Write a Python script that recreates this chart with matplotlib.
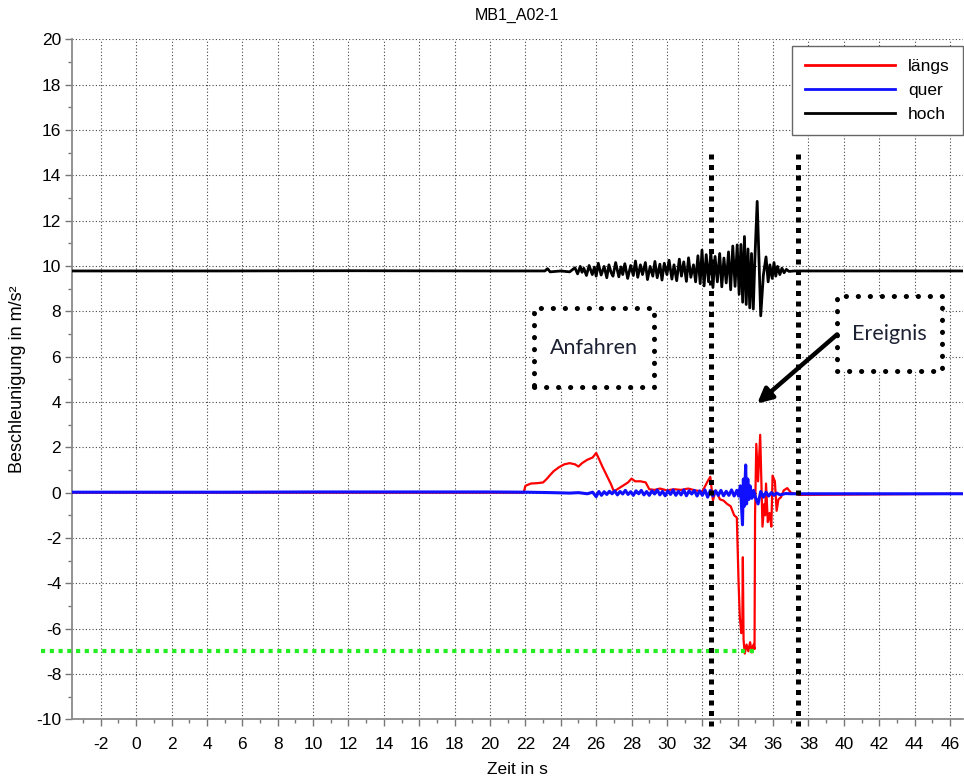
import matplotlib
matplotlib.use("Agg")
import matplotlib.pyplot as plt
from matplotlib.patches import Rectangle
from matplotlib.ticker import MultipleLocator

plt.rcParams['font.family'] = ['Liberation Sans', 'DejaVu Sans']
plt.rcParams['axes.unicode_minus'] = False

# --- measured signals -------------------------------------------------------
# vertical acceleration (hoch)
hoch_t = [-3.6, 5.0, 12.0, 20.0, 23.1, 23.25, 23.4, 24.0, 24.5,
          24.8, 24.95, 25.1, 25.2, 25.3, 25.45, 25.6, 25.78, 25.9, 26.0,
          26.12, 26.28, 26.45, 26.6, 26.72, 26.85, 26.95, 27.1, 27.28, 27.4,
          27.5, 27.62, 27.78, 27.95, 28.1, 28.22, 28.35, 28.5, 28.62, 28.78,
          28.9, 29.05, 29.2, 29.32, 29.45, 29.6, 29.72, 29.85, 30.0, 30.12,
          30.28, 30.4, 30.55, 30.7, 30.82, 30.95, 31.1, 31.22, 31.35, 31.5,
          31.62, 31.75, 31.88, 31.98, 32.1, 32.22, 32.35, 32.48, 32.6, 32.72,
          32.85, 32.98, 33.1, 33.22, 33.35, 33.48, 33.6, 33.72, 33.85, 33.97,
          34.08, 34.18, 34.28, 34.38, 34.48, 34.58, 34.68, 34.78, 34.88, 34.97,
          35.1, 35.3, 35.45, 35.6, 35.72, 35.82, 35.95, 36.05, 36.15, 36.25,
          36.38, 36.5, 36.62, 36.75, 36.9, 37.2, 46.8]
hoch_v = [9.78, 9.78, 9.79, 9.78, 9.78, 9.88, 9.74, 9.78, 9.74,
          9.92, 9.65, 9.98, 9.72, 9.90, 9.58, 10.02, 9.62, 9.95, 9.55,
          10.12, 9.60, 9.98, 9.48, 10.05, 9.70, 9.55, 10.15, 9.52, 9.96,
          9.62, 10.10, 9.45, 10.02, 9.58, 10.22, 9.50, 10.05, 9.62, 10.15,
          9.40, 9.98, 9.55, 10.20, 9.48, 10.08, 9.38, 10.12, 9.62, 10.25,
          9.42, 10.05, 9.35, 10.30, 9.55, 10.18, 9.32, 10.36, 9.50, 10.05,
          9.30, 10.45, 9.22, 10.70, 9.12, 10.50, 9.30, 10.62, 9.05, 10.42,
          9.30, 10.55, 9.08, 10.35, 9.25, 10.62, 8.95, 10.88, 9.10, 10.93,
          8.75, 10.95, 8.40, 11.30, 8.30, 10.75, 8.15, 10.55, 8.10, 10.30,
          12.85, 7.80, 9.60, 10.40, 9.30, 10.05, 9.45, 10.15, 9.55, 9.98,
          9.62, 9.90, 9.70, 9.85, 9.76, 9.78, 9.78]

# longitudinal acceleration (längs)
laengs_t = [-3.6, 21.9, 22.0, 22.3, 22.7, 23.0, 23.2, 23.4, 23.6, 23.9, 24.2,
            24.5, 24.8, 25.0, 25.2, 25.5, 25.8, 26.0, 26.15, 26.35, 26.6,
            26.85, 27.0, 27.2, 27.5, 27.8, 28.0, 28.2, 28.5, 28.8, 29.0,
            29.3, 29.6, 30.0, 30.4, 30.8, 31.2, 31.6, 32.0, 32.3, 32.45,
            32.6, 32.75, 33.0, 33.2, 33.4, 33.6, 33.8, 33.95, 33.98, 34.05,
            34.12, 34.2, 34.26, 34.29, 34.33, 34.4, 34.5, 34.6, 34.7, 34.8,
            34.9, 34.95, 34.98, 35.05, 35.15, 35.27, 35.32, 35.4, 35.5, 35.55,
            35.6, 35.7, 35.8, 35.9, 35.97, 36.1, 36.2, 36.3, 36.45, 36.6,
            36.8, 37.0, 37.5, 46.8]
laengs_v = [0.0, 0.0, 0.30, 0.40, 0.42, 0.45, 0.60, 0.78, 0.95, 1.12, 1.25,
            1.30, 1.25, 1.15, 1.30, 1.45, 1.55, 1.75, 1.50, 1.15, 0.75,
            0.35, 0.05, 0.15, 0.30, 0.45, 0.62, 0.50, 0.50, 0.45, 0.15,
            0.12, 0.18, 0.10, 0.15, 0.12, 0.18, 0.10, 0.05, 0.50, 0.70,
            -0.35, 0.10, -0.30, -0.35, -0.50, -0.60, -1.00, -1.10, -2.00, -4.00,
            -5.50, -6.20, -5.80, -2.85, -6.50, -7.10, -6.70, -7.00, -6.60, -7.05,
            -6.70, -6.90, -1.00, 2.15, 0.50, 2.55, 1.00, -1.50, -0.50, -1.00,
            0.40, -1.30, -0.90, -1.50, 0.75, 0.50, -0.80, -0.30, -0.20, 0.10,
            0.20, 0.00, -0.10, -0.05]

# lateral acceleration (quer)
quer_t = [-3.6, 5.0, 10.0, 20.0, 22.0, 23.5, 24.5, 25.0, 25.5, 25.8,
          26.0, 26.15, 26.3, 26.45, 26.6, 26.75, 26.9, 27.05, 27.2, 27.35,
          27.5, 27.65, 27.8, 27.95, 28.1, 28.25, 28.4, 28.55, 28.7, 28.85,
          29.0, 29.15, 29.3, 29.45, 29.6, 29.75, 29.9, 30.05, 30.2, 30.35,
          30.5, 30.65, 30.8, 30.95, 31.1, 31.25, 31.4, 31.55, 31.7, 31.85,
          32.0, 32.15, 32.3, 32.45, 32.6, 32.75, 32.9, 33.05, 33.2, 33.35,
          33.5, 33.65, 33.8, 33.95, 34.05, 34.15, 34.2, 34.27, 34.32, 34.37,
          34.45, 34.5, 34.57, 34.63, 34.7, 34.8, 34.9, 35.0, 35.15, 35.3,
          35.45, 35.6, 35.75, 35.9, 36.05, 36.2, 36.4, 36.7, 37.0, 46.8]
quer_v = [0.02, 0.02, 0.03, 0.03, 0.02, 0.00, -0.02, 0.00, -0.05, 0.02,
          -0.18, 0.05, -0.12, 0.04, -0.08, 0.06, -0.05, 0.08, -0.10, 0.05,
          -0.06, 0.10, -0.08, 0.04, -0.12, 0.08, -0.05, 0.10, -0.10, 0.05,
          -0.12, 0.08, -0.06, 0.12, -0.10, 0.06, -0.14, 0.08, -0.08, 0.12,
          -0.12, 0.06, -0.10, 0.12, -0.14, 0.08, -0.06, 0.10, -0.15, 0.08,
          -0.12, 0.12, -0.20, 0.10, -0.15, 0.08, -0.12, 0.10, -0.14, 0.06,
          -0.12, 0.12, -0.15, 0.10, -0.15, 0.30, -0.40, -1.42, 0.60, -0.60,
          1.22, -0.50, 0.60, -0.30, 0.30, -0.25, 0.10, -0.20, -0.50, 0.05,
          -0.20, 0.02, -0.15, 0.00, -0.12, -0.02, -0.10, -0.04, -0.05, -0.05]

# phase boundaries and limit level
phase_bounds = [32.5, 37.4]
limit_level = -7.0
limit_end = 35.15

x_major = 2
y_major = 2

# --- figure -----------------------------------------------------------------
fig = plt.figure(figsize=(9.64, 7.80), dpi=100)
ax = fig.add_axes([72.3 / 964, 60.7 / 780, 891 / 964, 680 / 780])

ax.set_xlim(-3.61, 46.75)
ax.set_ylim(-10, 20)

ax.xaxis.set_major_locator(MultipleLocator(x_major))
ax.xaxis.set_minor_locator(MultipleLocator(1))
ax.yaxis.set_major_locator(MultipleLocator(y_major))
ax.yaxis.set_minor_locator(MultipleLocator(1))

ax.grid(True, which='major', color='#444444', linestyle=(0, (1, 2)), linewidth=0.8)
ax.set_axisbelow(True)

for side in ('top', 'right'):
    ax.spines[side].set_visible(False)
for side in ('left', 'bottom'):
    ax.spines[side].set_color('#8a8a8a')
    ax.spines[side].set_linewidth(1.3)

ax.tick_params(which='major', direction='out', length=5, width=1.0,
               color='#777777', labelsize=12.5, pad=3)
ax.tick_params(which='minor', direction='out', length=3, width=1.0, color='#777777')
ax.tick_params(axis='x', which='major', pad=8)

l1, = ax.plot(laengs_t, laengs_v, color='#ff0000', lw=1.6, label='längs', zorder=3)
l2, = ax.plot(quer_t, quer_v, color='#1010ff', lw=2.2, label='quer', zorder=4)
l3, = ax.plot(hoch_t, hoch_v, color='black', lw=2.0, label='hoch', zorder=5)

# limit level
ax.plot([-5.38, limit_end], [limit_level, limit_level], color='#22ee22', lw=3.0,
        linestyle=(0, (1, 1.1)), solid_capstyle='butt', dash_capstyle='butt',
        clip_on=False, zorder=6)

# phase boundaries
for xb in phase_bounds:
    ax.plot([xb, xb], [-10.3, 14.95], color='black', lw=3.6,
            linestyle=(0, (1, 1.1)), dash_capstyle='butt', clip_on=False, zorder=7)


def dotted_box(x0, y0, x1, y1, text):
    r = Rectangle((x0, y0), x1 - x0, y1 - y0, fill=True, facecolor='white',
                  edgecolor='black', lw=3.6, linestyle=(0, (0.05, 2.35)), zorder=8)
    r.set_capstyle('round')
    ax.add_patch(r)
    ax.text((x0 + x1) / 2, (y0 + y1) / 2, text, ha='center', va='center',
            fontsize=15.5, color='#1c2233', family=['Lato', 'DejaVu Sans'], zorder=9)


dotted_box(22.51, 4.67, 29.24, 8.13, 'Anfahren')
dotted_box(39.61, 5.35, 45.55, 8.66, 'Ereignis')

ax.annotate('', xy=(35.1, 3.93), xytext=(39.62, 6.98),
            arrowprops=dict(arrowstyle='-|>', color='black', lw=3.2,
                            mutation_scale=22, shrinkA=0, shrinkB=0),
            zorder=9)

leg = ax.legend(handles=[l1, l2, l3], loc='upper right',
                bbox_to_anchor=(963 / 964, 1 - 46 / 780), bbox_transform=fig.transFigure,
                borderaxespad=0, fontsize=12.5, handlelength=5.2, handletextpad=0.75,
                labelspacing=0.5, borderpad=0.75, fancybox=False, framealpha=1,
                edgecolor='#666666')
leg.get_frame().set_linewidth(1.0)
for h in leg.get_lines():
    h.set_linewidth(2.0)

ax.set_xlabel('Zeit in s', fontsize=12.5, va='center')
ax.set_ylabel('Beschleunigung in m/s²', fontsize=13, va='center')
ax.xaxis.set_label_coords(0.5, -(770 - 719.3) / 680)
ax.yaxis.set_label_coords(-(72.3 - 18) / 891, 0.5)

fig.text(517 / 964, 1 - 15 / 780, 'MB1_A02-1', ha='center', va='center', fontsize=11.5)

fig.savefig('out.png', dpi=100)
